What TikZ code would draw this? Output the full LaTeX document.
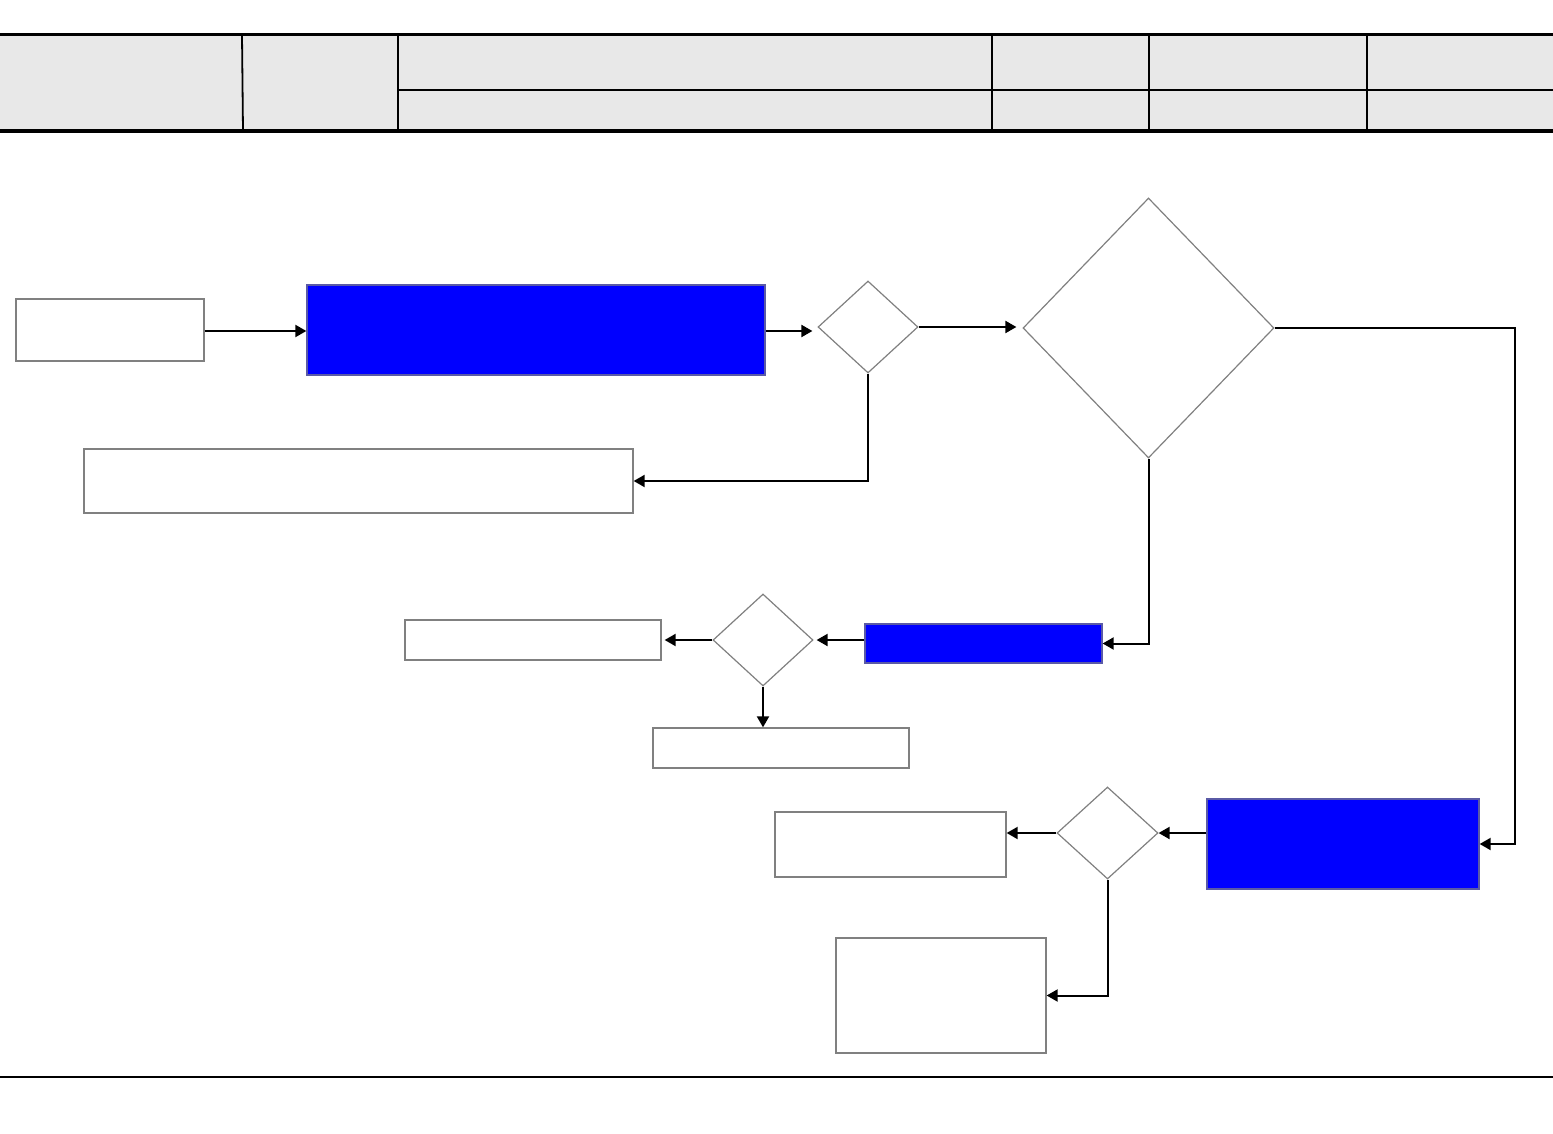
\documentclass[tikz,border=0pt]{standalone}
\usetikzlibrary{shapes.geometric,arrows.meta}
\definecolor{hdrgray}{HTML}{E8E8E8}
\definecolor{boxgray}{HTML}{808080}
\definecolor{pureblue}{HTML}{0000FF}
\begin{document}
\begin{tikzpicture}[x=1pt,y=-1pt,
  box/.style={draw=boxgray,line width=1.3pt,fill=white,inner sep=0pt,minimum width=#1},
  bluebox/.style={draw=boxgray!70!blue,line width=1.3pt,fill=pureblue,inner sep=0pt},
  dec/.style={draw=boxgray,line width=1.2pt,fill=white,diamond,inner sep=0pt},
  conn/.style={line width=2pt,-{Triangle[length=11pt,width=12pt]}},
  plain/.style={line width=2pt}]
\useasboundingbox (0,0) rectangle (1553,1134);
% header
\fill[hdrgray] (0,35) rectangle (1553,131);
\draw[line width=3pt] (0,35) -- (1553,35);
\draw[line width=3.5pt] (0,131) -- (1553,131);
\draw[line width=1.8pt] (242,35) -- (243,131);
\foreach \xx in {398,992,1149,1367} \draw[line width=2pt] (\xx,35) -- (\xx,131);
\draw[line width=2pt] (398,90) -- (1553,90);
% footer
\draw[line width=2pt] (0,1077) -- (1553,1077);
% nodes
\node[box=188pt,minimum height=62pt] (A) at (110,330) {};
\node[bluebox,minimum width=458pt,minimum height=90pt] (B) at (536,330) {};
\node[dec,minimum width=100pt,minimum height=92pt] (D1) at (868,327) {};
\node[box=549pt,minimum height=64pt] (C) at (358.5,481) {};
\node[dec,minimum width=251pt,minimum height=260pt] (D2) at (1148.5,328) {};
\node[bluebox,minimum width=237pt,minimum height=39pt] (E) at (983.5,643.5) {};
\node[dec,minimum width=100pt,minimum height=92pt] (D3) at (763,640) {};
\node[box=256pt,minimum height=40pt] (F) at (533,640) {};
\node[box=256pt,minimum height=40pt] (G) at (781,748) {};
\node[bluebox,minimum width=272pt,minimum height=90pt] (H) at (1343,844) {};
\node[dec,minimum width=101pt,minimum height=92pt] (D4) at (1107.5,833) {};
\node[box=231pt,minimum height=65pt] (I) at (890.5,844.5) {};
\node[box=210pt,minimum height=115pt] (J) at (941,995.5) {};
% connectors
\coordinate (k1) at (1515,328);
\coordinate (k2) at (1515,844);
\draw[conn] (A.east |- 0,331) -- (B.west |- 0,331);
\draw[conn,shorten >=5pt] (B.east |- 0,331) -- (D1.west |- 0,331);
\draw[conn,shorten >=6pt] (D1.east) -- (D2.west |- D1.east);
\draw[conn] (D1.south) |- (C.east);
\draw[conn] (D2.east) -- (k1) -- (k2) -- (H.east);
\draw[conn] (D2.south) |- (E.east);
\draw[conn,shorten >=3pt] (E.west |- D3.east) -- (D3.east);
\draw[conn,shorten >=3pt] (D3.west) -- (F.east);
\draw[conn] (D3.south) -- (D3.south |- G.north);
\draw[conn] (H.west |- D4.east) -- (D4.east);
\draw[conn] (D4.west) -- (I.east |- D4.west);
\draw[conn] (D4.south) |- (J.east);
\end{tikzpicture}
\end{document}
